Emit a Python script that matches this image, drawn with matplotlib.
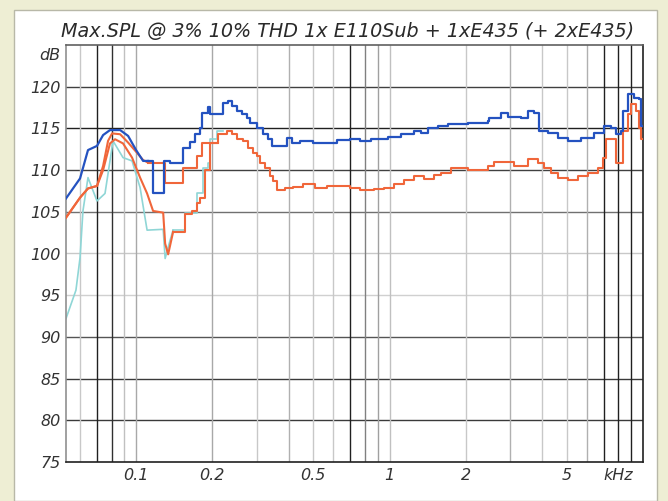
import matplotlib.pyplot as plt
from matplotlib.patches import Rectangle
import matplotlib.transforms as mtransforms

# --- data (frequency in kHz, level in dB) ---
title = "Max.SPL @ 3% 10% THD 1x E110Sub + 1xE435 (+ 2xE435)"

# blue: smooth low part, then stepped part (steps-post, last value repeated at end)
blue_low_f = [0.0529, 0.0601, 0.0646, 0.0701, 0.0741, 0.0789, 0.0865, 0.0930, 0.1000, 0.1066, 0.1115]
blue_low_db = [106.6, 109.0, 112.4, 112.9, 114.2, 114.8, 114.8, 114.1, 112.4, 111.1, 111.1]
blue_step_f = [0.1115, 0.1167, 0.1292, 0.1362, 0.1534, 0.1635, 0.1711, 0.1791, 0.1824, 0.1926,
               0.1961, 0.2207, 0.2310, 0.2395, 0.2507, 0.2624, 0.2746, 0.2822, 0.3008, 0.3177,
               0.3325, 0.3448, 0.3952, 0.4136, 0.4449, 0.5008, 0.5585, 0.6231, 0.7012, 0.768,
               0.8414, 0.982, 1.105, 1.244, 1.326, 1.413, 1.548, 1.696, 2.034, 2.44,
               2.462, 2.746, 2.927, 3.295, 3.512, 3.708, 3.88, 4.213, 4.614, 5.053,
               5.687, 6.403, 7.012, 7.472, 7.821, 8.185, 8.335, 8.726, 9.214, 9.643,
               9.82, 10.0]
blue_step_db = [111.1, 107.2, 111.1, 110.8, 112.6, 113.4, 114.3, 115.1, 116.9, 117.6,
                116.7, 118.1, 118.3, 117.7, 117.1, 116.7, 116.3, 115.7, 115.1, 114.3,
                113.7, 112.9, 113.9, 113.3, 113.5, 113.3, 113.2, 113.6, 113.7, 113.5,
                113.7, 114.0, 114.3, 114.7, 114.5, 115.1, 115.3, 115.5, 115.7, 115.9,
                116.3, 116.9, 116.4, 116.3, 117.1, 116.9, 114.7, 114.5, 113.9, 113.5,
                113.9, 114.5, 115.3, 115.1, 114.3, 114.7, 117.1, 119.1, 118.7, 118.5,
                115.3, 115.3]

# orange, upper
orA_low_f = [0.0529, 0.0601, 0.0646, 0.0701, 0.0741, 0.0775, 0.0804, 0.0865, 0.0930, 0.1000, 0.1066, 0.1115]
orA_low_db = [104.3, 106.7, 107.8, 108.1, 110.5, 113.5, 114.4, 114.3, 113.3, 112.2, 111.2, 110.9]
orA_step_f = [0.1115, 0.1302, 0.1534, 0.1742, 0.1824, 0.2109, 0.2289, 0.2395, 0.2507, 0.2648,
              0.2771, 0.2900, 0.3008, 0.3091, 0.3236, 0.3386, 0.3480, 0.3608, 0.388, 0.4174,
              0.4572, 0.510, 0.5687, 0.7012, 0.768, 0.8647, 0.9469, 1.037, 1.136, 1.244,
              1.363, 1.492, 1.591, 1.75, 2.034, 2.44, 2.577, 3.091, 3.512, 3.846,
              4.062, 4.33, 4.614, 5.053, 5.535, 6.064, 6.640, 6.950, 7.142, 7.821,
              8.335, 8.726, 8.968, 9.383, 9.643, 9.82, 10.0]
orA_step_db = [110.9, 108.4, 110.2, 111.7, 113.3, 114.3, 114.7, 114.3, 113.7, 113.5,
               112.7, 112.1, 111.7, 110.9, 110.3, 109.3, 108.7, 107.6, 107.8, 108.0,
               108.3, 107.9, 108.1, 107.9, 107.6, 107.7, 107.9, 108.3, 108.8, 109.3,
               108.9, 109.4, 109.6, 110.2, 110.0, 110.5, 111.0, 110.5, 111.3, 110.9,
               110.3, 109.6, 109.0, 108.8, 109.3, 109.7, 110.3, 111.5, 113.7, 110.9,
               114.7, 116.7, 117.9, 117.1, 115.1, 113.7, 113.7]

# orange, lower
orB_low_f = [0.0529, 0.0601, 0.0646, 0.0701, 0.0741, 0.0789, 0.0826, 0.0888, 0.0964, 0.1037,
             0.1105, 0.1167, 0.1279, 0.1302, 0.1338, 0.1400]
orB_low_db = [104.3, 106.7, 107.8, 108.1, 110.0, 113.2, 113.7, 113.2, 111.5, 109.1,
              107.2, 105.1, 104.9, 101.2, 99.9, 102.6]
orB_step_f = [0.1400, 0.1562, 0.1665, 0.1742, 0.1791, 0.1874, 0.1961, 0.2109]
orB_step_db = [102.6, 104.7, 105.1, 106.1, 106.6, 110.0, 113.3, 113.3]

# cyan
cyan_low_f = [0.0529, 0.0579, 0.0601, 0.0617, 0.0646, 0.0701, 0.0754, 0.0811, 0.0888, 0.0964,
              0.1037, 0.1105, 0.1279, 0.1302, 0.1362, 0.1400]
cyan_low_db = [92.2, 95.6, 99.5, 105.1, 109.1, 106.3, 107.2, 113.5, 111.5, 111.1,
               107.9, 102.8, 102.9, 99.4, 101.6, 102.8]
cyan_step_f = [0.1400, 0.1562, 0.1742, 0.1840, 0.1926, 0.1961, 0.2090, 0.2207]
cyan_step_db = [102.8, 104.8, 107.2, 110.3, 110.9, 113.7, 114.7, 114.7]

y_ticks = [75, 80, 85, 90, 95, 100, 105, 110, 115, 120]
x_ticks = [0.1, 0.2, 0.5, 1, 2, 5, 8]
x_ticklabels = ["0.1", "0.2", "0.5", "1", "2", "5", "kHz"]

# grid lines: (position, colour)
hgrid = [(80, "#3a3a3a"), (85, "#3a3a3a"), (90, "#555555"), (95, "#d0d0d0"), (100, "#c8c8c8"),
         (105, "#707070"), (110, "#404040"), (115, "#202020"), (120, "#404040")]
vgrid = [(0.06, "#c8c8c8"), (0.07, "#202020"), (0.08, "#303030"), (0.09, "#c0c0c0"), (0.1, "#a8a8a8"),
         (0.2, "#a8a8a8"), (0.3, "#c8c8c8"), (0.4, "#b0b0b0"), (0.5, "#c8c8c8"), (0.6, "#c8c8c8"),
         (0.7, "#202020"), (0.8, "#808080"), (0.9, "#a0a0a0"), (1, "#c0c0c0"), (2, "#c8c8c8"),
         (3, "#b0b0b0"), (4, "#c8c8c8"), (5, "#c8c8c8"), (6, "#b0b0b0"), (7, "#202020"),
         (8, "#202020"), (9, "#202020")]

BLUE = "#2452c0"
ORANGE = "#f0663a"
CYAN = "#8fd6d6"
BEIGE = "#eeeed4"

fig = plt.figure(figsize=(6.68, 5.01), dpi=100)
fig.patch.set_facecolor(BEIGE)
fig.patches.append(Rectangle((14 / 668, 0), (657 - 14) / 668, 491 / 501, transform=fig.transFigure,
                             facecolor="white", edgecolor="#b8b8a8", linewidth=1.0, zorder=-10))

ax = fig.add_axes([66 / 668, 39 / 501, 577 / 668, 417 / 501])
ax.set_zorder(5)
ax.set_xscale("log")
ax.set_xlim(0.0529, 10.0)
ax.set_ylim(75, 125)

for y, c in hgrid:
    ax.axhline(y, color=c, lw=1.0, zorder=1)
for x, c in vgrid:
    ax.axvline(x, color=c, lw=1.0, zorder=1)

ax.plot(cyan_low_f, cyan_low_db, color=CYAN, lw=1.2, zorder=2)
ax.plot(cyan_step_f, cyan_step_db, color=CYAN, lw=1.2, drawstyle="steps-post", zorder=2)
ax.plot(orB_low_f, orB_low_db, color=ORANGE, lw=1.5, zorder=3)
ax.plot(orB_step_f, orB_step_db, color=ORANGE, lw=1.5, drawstyle="steps-post", zorder=3)
ax.plot(orA_low_f, orA_low_db, color=ORANGE, lw=1.5, zorder=3)
ax.plot(orA_step_f, orA_step_db, color=ORANGE, lw=1.5, drawstyle="steps-post", zorder=3)
ax.plot(blue_low_f, blue_low_db, color=BLUE, lw=1.6, zorder=4)
ax.plot(blue_step_f, blue_step_db, color=BLUE, lw=1.6, drawstyle="steps-post", zorder=4)

ax.set_yticks(y_ticks)
ax.set_yticklabels([str(v) for v in y_ticks])
ax.set_xticks(x_ticks)
ax.set_xticklabels(x_ticklabels)
ax.minorticks_off()
ax.tick_params(length=0, labelsize=11.5, labelcolor="#333333", pad=4)
for lab in ax.get_xticklabels() + ax.get_yticklabels():
    lab.set_fontstyle("italic")

ax.spines["left"].set_color("#909090")
ax.spines["top"].set_color("#606060")
ax.spines["bottom"].set_color("#202020")
ax.spines["right"].set_color("#202020")
for s in ax.spines.values():
    s.set_linewidth(1.2)

trans = mtransforms.blended_transform_factory(ax.transAxes, ax.transData)
ax.text(-0.01, 123.7, "dB", transform=trans, ha="right", va="center",
        fontsize=11.5, fontstyle="italic", color="#333333")

fig.text(348 / 668, 1 - 31 / 501, title, ha="center", va="center",
         fontsize=13.8, fontstyle="italic", color="#2a2a2a")

fig.savefig("out.png", dpi=100, facecolor=fig.get_facecolor())
